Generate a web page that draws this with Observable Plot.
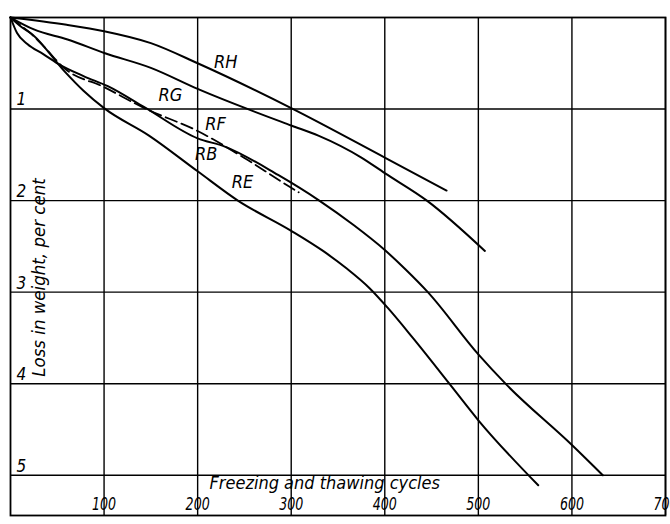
<!DOCTYPE html>
<html><head><meta charset="utf-8">
<script src="https://cdn.jsdelivr.net/npm/d3@7"></script>
<script src="https://cdn.jsdelivr.net/npm/@observablehq/plot@0.6"></script>
<style>
body{margin:0;background:#fff}
svg{display:block}
</style>
</head><body><div id="chart"></div>
<script>
// ---- data ----
const xTicks = [100, 200, 300, 400, 500, 600, 700];
const yTicks = [1, 2, 3, 4, 5];
const xTitle = "Freezing and thawing cycles";
const yTitle = "Loss in weight, per cent";

const seriesNames = ["RH", "RG", "RF", "RB", "RE"];

const rhX = [0, 60, 100, 150, 200, 300, 400, 466];
const rhY = [0, 0.08, 0.15, 0.28, 0.50, 0.99, 1.53, 1.89];

const rgX = [0, 25, 61, 101, 150, 200, 300, 329, 375, 400, 445, 507];
const rgY = [0, 0.13, 0.24, 0.39, 0.55, 0.78, 1.18, 1.29, 1.53, 1.70, 2.0, 2.55];

const rfX = [0, 10, 20, 35, 57, 100, 143, 200, 254, 300, 308];
const rfY = [0, 0.08, 0.16, 0.31, 0.55, 0.76, 0.99, 1.24, 1.56, 1.86, 1.91];

const rbX = [0, 7, 18, 35, 50, 78, 104, 143, 200, 229, 286, 330, 367, 400, 422, 446, 500, 529, 600, 633];
const rbY = [0, 0.17, 0.29, 0.40, 0.50, 0.64, 0.75, 0.98, 1.32, 1.41, 1.72, 2.0, 2.27, 2.54, 2.75, 3.0, 3.68, 4.0, 4.67, 5.0];

const reX = [0, 10, 24, 57, 78, 100, 148, 200, 243, 300, 334, 359, 384, 403, 430, 469, 500, 564];
const reY = [0, 0.09, 0.19, 0.58, 0.80, 0.99, 1.29, 1.68, 2.0, 2.33, 2.55, 2.74, 2.96, 3.17, 3.5, 4.0, 4.40, 5.11];

// label anchor positions (data units)
const labelX = [230, 171, 219, 209, 248];
const labelY = [0.49, 0.85, 1.17, 1.49, 1.80];

// ---- build tables ----
const xs = [rhX, rgX, rfX, rbX, reX];
const ys = [rhY, rgY, rfY, rbY, reY];
const rows = [];
seriesNames.forEach((name, i) => {
  xs[i].forEach((x, j) => rows.push({series: name, x, y: ys[i][j]}));
});
const solid = rows.filter(d => d.series !== "RF");
const dashed = rows.filter(d => d.series === "RF");
const labels = seriesNames.map((s, i) => ({text: s, x: labelX[i], y: labelY[i]}));

const FONT = "'DejaVu Sans Condensed', 'DejaVu Sans', sans-serif";

const chart = Plot.plot({
  width: 670,
  height: 524,
  marginLeft: 10,
  marginRight: 5,
  marginTop: 17,
  marginBottom: 9,
  x: {domain: [0, 700]},
  y: {domain: [0, 5.44], reverse: true},
  style: {background: "#fff", color: "#000"},
  marks: [
    Plot.ruleX(xTicks, {stroke: "#000", strokeWidth: 1.4}),
    Plot.ruleY(yTicks, {stroke: "#000", strokeWidth: 1.4}),
    Plot.frame({stroke: "#000", strokeWidth: 1.8}),
    Plot.line(solid, {x: "x", y: "y", z: "series", curve: "monotone-x", stroke: "#000", strokeWidth: 2}),
    Plot.line(dashed, {x: "x", y: "y", curve: "monotone-x", stroke: "#000", strokeWidth: 1.8, strokeDasharray: "12,5"}),
    Plot.text(labels, {x: "x", y: "y", text: "text", fontSize: 18, fontStyle: "italic", fontFamily: FONT, fill: "#000"}),
    Plot.axisX(xTicks, {anchor: "bottom", label: null, tickSize: 0, tickPadding: 0, dy: -18, fontSize: 18, fontStyle: "italic", fontFamily: FONT, fill: "#000", tickFormat: d => String(d)}),
    Plot.axisY(yTicks, {anchor: "left", label: null, tickSize: 0, tickPadding: 0, textAnchor: "start", dx: 6, dy: -9, fontSize: 17, fontStyle: "italic", fontFamily: FONT, fill: "#000", tickFormat: d => String(d)}),
    Plot.text([xTitle], {frameAnchor: "bottom-left", dx: 199, dy: -27, textAnchor: "start", fontSize: 18, fontStyle: "italic", fontFamily: FONT, fill: "#000"}),
    Plot.text([yTitle], {frameAnchor: "left", dx: 29, dy: 11, rotate: -90, textAnchor: "middle", fontSize: 18.5, fontStyle: "italic", fontFamily: FONT, fill: "#000"})
  ]
});
// narrow the numeral lettering of the x tick labels, like the drafting style of the original
chart.querySelectorAll('g[aria-label="x-axis tick label"] text').forEach(t => {
  const tr = t.getAttribute("transform") || "";
  t.setAttribute("transform", tr + " scale(0.78,1)");
});
document.getElementById("chart").appendChild(chart);
</script></body></html>
